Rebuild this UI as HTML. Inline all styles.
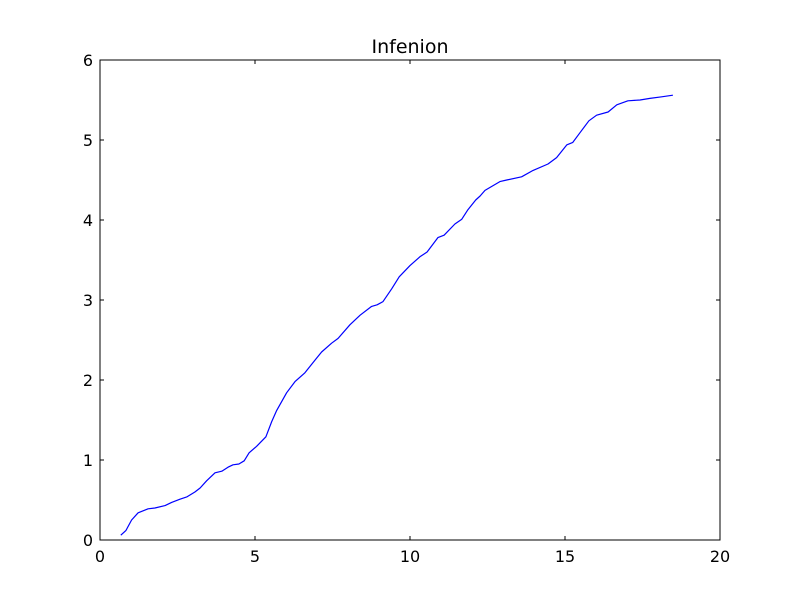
<!DOCTYPE html>
<html><head><meta charset="utf-8"><style>
body{margin:0;background:#fff}
svg text{font-family:"DejaVu Sans","Liberation Sans",sans-serif;fill:#000}
</style></head><body>
<svg id="chart" width="800" height="600" xmlns="http://www.w3.org/2000/svg">
<rect x="0" y="0" width="800" height="600" fill="#fff"/>
<text x="410" y="53" font-size="19" text-anchor="middle">Infenion</text>
<g id="ticks"></g>
<path id="line" fill="none" stroke="#0000ff" stroke-width="1.2" stroke-linejoin="round"/>
<rect x="100" y="60" width="620" height="480" fill="none" stroke="#000" stroke-width="1"/>
</svg>
<script>
const xValues=[0.67,0.84,1.02,1.23,1.55,1.77,2.10,2.31,2.58,2.81,3.06,3.23,3.44,3.71,3.93,4.13,4.29,4.48,4.65,4.81,5.05,5.35,5.54,5.70,6.02,6.29,6.61,6.94,7.15,7.47,7.68,8.06,8.39,8.76,8.94,9.13,9.41,9.65,10.0,10.32,10.55,10.90,11.10,11.45,11.67,11.87,12.12,12.26,12.42,12.90,13.12,13.60,13.97,14.45,14.73,15.06,15.25,15.48,15.77,16.02,16.39,16.67,17.03,17.42,17.74,18.12,18.48];
const yValues=[0.06,0.12,0.25,0.34,0.39,0.40,0.43,0.47,0.51,0.54,0.60,0.65,0.74,0.84,0.86,0.91,0.94,0.95,0.99,1.09,1.17,1.29,1.48,1.62,1.84,1.98,2.09,2.25,2.35,2.46,2.52,2.69,2.81,2.92,2.94,2.98,3.14,3.29,3.43,3.54,3.60,3.78,3.81,3.95,4.01,4.13,4.25,4.30,4.37,4.48,4.50,4.54,4.62,4.70,4.78,4.94,4.97,5.09,5.24,5.31,5.35,5.44,5.49,5.50,5.52,5.54,5.56];
const xTicks=[0,5,10,15,20];
const yTicks=[0,1,2,3,4,5,6];
const X=v=>100+v*31, Y=v=>540-v*80;
const ns="http://www.w3.org/2000/svg";
const g=document.getElementById('ticks');
function mk(tag,attrs){const e=document.createElementNS(ns,tag);for(const k in attrs)e.setAttribute(k,attrs[k]);g.appendChild(e);return e;}
xTicks.forEach(t=>{
  const x=X(t);
  const a=mk('line',{x1:x,x2:x,y1:540,y2:536,stroke:'#000'});
  
  
  const b=mk('line',{x1:x,x2:x,y1:60,y2:64,stroke:'#000'});
  
  
  const l=mk('text',{x:x,y:562,'font-size':16,'text-anchor':'middle'});
  l.textContent=t;
  
  
});
yTicks.forEach(t=>{
  const y=Y(t);
  const a=mk('line',{x1:100,x2:104,y1:y,y2:y,stroke:'#000'});
  
  
  const b=mk('line',{x1:716,x2:720,y1:y,y2:y,stroke:'#000'});
  
  
  const l=mk('text',{x:93,y:y+6,'font-size':16,'text-anchor':'end'});
  l.textContent=t;
  
  
});
document.getElementById('line').setAttribute('d',xValues.map((v,i)=>(i?'L':'M')+X(v).toFixed(1)+','+Y(yValues[i]).toFixed(1)).join(''));
</script>
</body></html>
